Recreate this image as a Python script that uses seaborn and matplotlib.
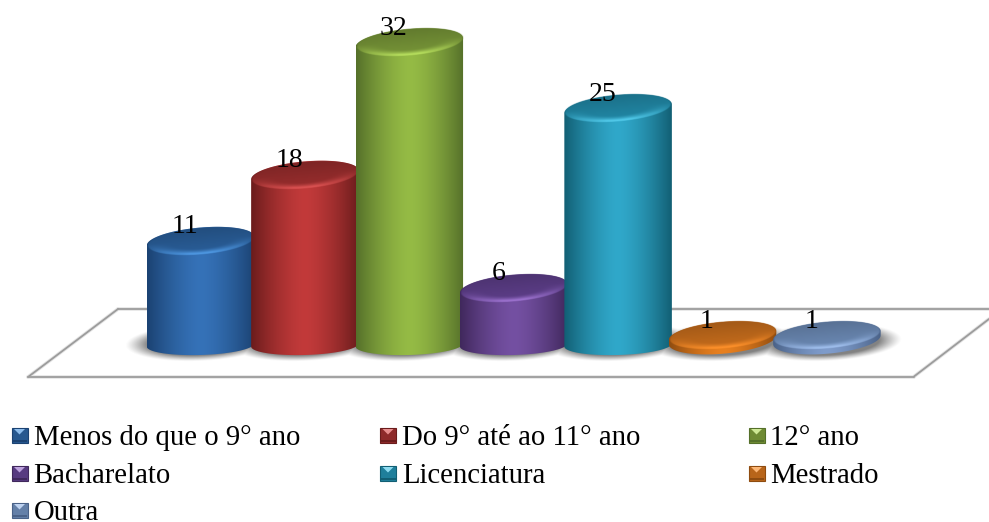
import numpy as np
import matplotlib
matplotlib.use("Agg")
import matplotlib.pyplot as plt
from matplotlib.colors import to_rgb
from matplotlib.patches import PathPatch, Polygon, Rectangle
from matplotlib.path import Path
from matplotlib.transforms import Affine2D
import seaborn as sns

categories = ["Menos do que o 9° ano", "Do 9° até ao 11° ano", "12° ano",
              "Bacharelato", "Licenciatura", "Mestrado", "Outra"]
values = [11, 18, 32, 6, 25, 1, 1]

body_light = ["#3572b8", "#c23a3a", "#95bb45", "#7450a2", "#30a8ca", "#e8801f", "#7f9ccb"]
body_dark = ["#1b4272", "#6b1c1c", "#55702a", "#40285c", "#125f74", "#8f4c10", "#4a6288"]
cap_colour = ["#27588f", "#8e2a2a", "#6f8b34", "#573a80", "#1f7f9b", "#b8651a", "#6480a8"]
rim_colour = ["#4d96e0", "#d85050", "#b4dc5c", "#9a70cc", "#50c8e8", "#fb8f2a", "#9dbcea"]

FONT = ["Liberation Serif", "DejaVu Serif"]
W, H = 989, 522
X0, X_STEP = 200.5, 104.4      # pixel position of the first bar and category pitch
Y0, Y_STEP = 345.0, 9.45       # pixel position of value 0 and pixels per unit

sns.set_theme(style="white")
fig = plt.figure(figsize=(W / 100, H / 100), dpi=100, facecolor="white")
ax = fig.add_axes([0, 0, 1, 1])
pixels = Affine2D().scale(1, -1).translate(0, H)

sns.barplot(x=categories, y=values, hue=categories, palette=body_light,
            order=categories, hue_order=categories, width=1.03, legend=False,
            saturation=1, ax=ax, zorder=3)
bars = [p for p in ax.patches if isinstance(p, Rectangle)]

XLIM = (-X0 / X_STEP, (W - X0) / X_STEP)
YLIM = ((Y0 - H) / Y_STEP, Y0 / Y_STEP)


def data_grid(x0, x1, y0, y1):
    xs = np.linspace(x0, x1, int((x1 - x0) * X_STEP * 2))
    ys = np.linspace(y0, y1, int((y1 - y0) * Y_STEP * 2))
    return np.meshgrid(xs, ys)


def ellipse_coords(xx, yy, cx, cy, a, b, shear):
    """Normalised coordinates inside a sheared ellipse given in data units."""
    u = (xx - cx) / a
    w = (yy - cy - shear * u) / b
    return u, w


def outline(cx, cy, a, b, shear, start, stop):
    t = np.linspace(start, stop, 60)
    return np.column_stack([cx + a * np.cos(t),
                            cy + b * np.sin(t) + shear * np.cos(t)])


# floor plane
ax.add_patch(Polygon([(118, 309), (989, 309), (989, 320), (914, 376), (28, 376)],
                     closed=True, transform=pixels, fc="white", ec="none", zorder=1))
for pts in ([(118, 309), (989, 309)], [(118, 309), (28, 377)],
            [(28, 376.5), (914, 376.5)], [(914, 376.5), (989, 319)]):
    xs, ys = zip(*pts)
    ax.plot(xs, ys, color="#e4e4e4", lw=2.6, transform=pixels, zorder=1,
            solid_capstyle="round")
    ax.plot(xs, ys, color="#9c9c9c", lw=1.3, transform=pixels, zorder=1.1)

BAR_SHEAR = 0.085 * 52 / Y_STEP
CAP_B = 13.5 / Y_STEP

# soft shadow on the floor below all the cylinders
SHADOW_BOX = (-1.0, 6.95, -3.0, 3.0)
xx, yy = data_grid(*SHADOW_BOX)
shadow = np.zeros_like(xx)
for bar in bars:
    cx = bar.get_x() + bar.get_width() / 2
    u, w = ellipse_coords(xx, yy, cx, 0.25, 0.72, 2.0, BAR_SHEAR * 0.7)
    shadow = np.maximum(shadow, np.clip((1 - np.hypot(u, w)) / 0.30, 0, 1))
shadow_rgba = np.zeros(xx.shape + (4,))
shadow_rgba[..., :3] = 0.32
shadow_rgba[..., 3] = 0.72 * shadow ** 1.2
ax.imshow(shadow_rgba, origin="lower", extent=SHADOW_BOX,
          aspect="auto", zorder=2, interpolation="bilinear")

for i, (bar, value) in enumerate(zip(bars, values)):
    z = 3 + i
    bar.set_visible(False)
    left, width = bar.get_x(), bar.get_width()
    cx, a = left + width / 2, width / 2
    top = bar.get_height()

    light = np.array(to_rgb(body_light[i]))
    dark = np.array(to_rgb(body_dark[i]))
    cap = np.array(to_rgb(cap_colour[i]))
    rim = np.array(to_rgb(rim_colour[i]))

    # the short disks keep the tilt of their cap at the base
    if value < 3:
        base_y, base_b, base_shear = top - 4.2 / Y_STEP, 14 / Y_STEP, BAR_SHEAR
    else:
        base_y, base_b, base_shear = 0.0, 10 / Y_STEP, 0.03 * 52 / Y_STEP

    lower = outline(cx, base_y, a, base_b, base_shear, np.pi, 2 * np.pi)
    upper = outline(cx, top, a, CAP_B, BAR_SHEAR, 0, np.pi)
    contour = np.vstack([lower, upper, lower[:1]])
    silhouette = Path(contour, closed=False)

    # cylinder wall, shaded across its width
    x0, x1 = cx - a, cx + a
    y0, y1 = base_y - 3, top + 3
    ramp = np.abs(np.linspace(-1, 1, 160)) ** 1.5
    shade = light[None, :] * (1 - ramp[:, None]) + dark[None, :] * ramp[:, None]
    wall = ax.imshow(shade[None, :, :], extent=(x0, x1, y0, y1), aspect="auto",
                     zorder=z, interpolation="bilinear")
    wall.set_clip_path(PathPatch(silhouette, transform=ax.transData))

    # cap with a bright front rim
    xx, yy = data_grid(x0, x1, top - 2.4, top + 2.4)
    u, w = ellipse_coords(xx, yy, cx, top, a, CAP_B, BAR_SHEAR)
    r = np.hypot(u, w)
    edge = np.clip((r - 0.55) / 0.33, 0, 1) ** 1.5
    front = np.clip(-w * 1.6 + 0.1, 0, 1) * np.clip(1.2 - np.abs(u), 0, 1)
    glow = (edge * front)[..., None]
    body = cap * (0.98 - 0.10 * np.clip(w, -1, 1)[..., None])
    rgb = np.clip(body * (1 - glow) + rim * glow, 0, 1)
    rgba = np.dstack([rgb, np.clip((1 - r) * 30, 0, 1)])
    ax.imshow(rgba, origin="lower", extent=(x0, x1, top - 2.4, top + 2.4),
              aspect="auto", zorder=z + 0.1, interpolation="bilinear")

    ax.annotate(str(value), xy=(cx, top), xytext=(-15.5, 8),
                textcoords="offset pixels", ha="center", va="baseline",
                family=FONT, fontsize=20, color="black", zorder=20)

ax.set_xlim(*XLIM)
ax.set_ylim(*YLIM)
ax.axis("off")

# legend, three columns of bevelled swatches
col_x = [11.5, 380, 748.5]
row_y = [428, 466, 503]
for i, name in enumerate(categories):
    x = col_x[i % 3]
    y = row_y[i // 3]
    s_w, s_h = 16, 14.5
    base = np.array(to_rgb(cap_colour[i]))
    shade_dark = np.array(to_rgb(body_dark[i]))
    tint = np.clip(np.array(to_rgb(rim_colour[i])) * 0.65 + 0.35, 0, 1)
    ax.add_patch(Rectangle((x, y), s_w, s_h, transform=pixels, fc=base,
                           ec=shade_dark, lw=0.8, zorder=5))
    # lighter wedge on the upper bevel and a dark lower edge
    ax.add_patch(Polygon([(x + 2.5, y + 1), (x + s_w - 2.5, y + 1), (x + s_w / 2, y + 6.5)],
                         closed=True, transform=pixels, fc=tint, ec="none", zorder=6))
    ax.add_patch(Rectangle((x + 0.5, y + s_h - 3), s_w - 1, 2.5, transform=pixels,
                           fc=shade_dark, ec="none", zorder=6))
    ax.text(x + 22, y + 17, name, transform=pixels, family=FONT, fontsize=20.7,
            color="black", ha="left", va="baseline", zorder=7)

fig.savefig("out.png", dpi=100, facecolor="white")
